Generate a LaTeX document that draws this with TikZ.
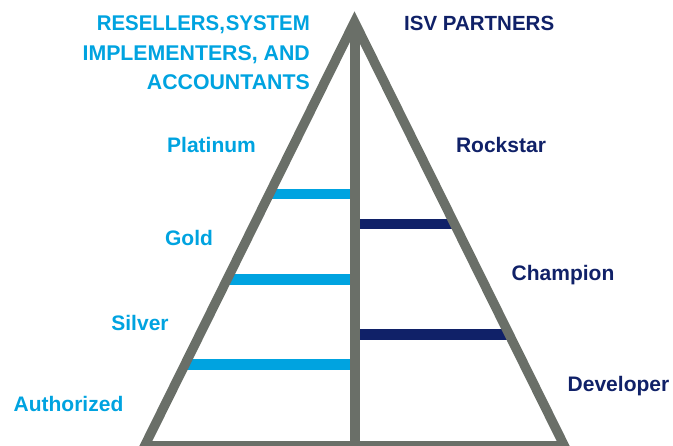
\documentclass[tikz,border=0pt]{standalone}
\usepackage{fontspec}
\setmainfont{Liberation Sans}
\definecolor{cyanA}{RGB}{0,163,224}
\definecolor{navyA}{RGB}{16,33,104}
\definecolor{grayA}{RGB}{106,111,104}
\begin{document}
\begin{tikzpicture}[x=1pt,y=-1pt,
  frame/.style={draw=grayA,line width=9.5pt,line join=miter},
  spine/.style={draw=grayA,line width=10pt},
  cbar/.style={draw=cyanA,line width=10.5pt},
  nbar/.style={draw=navyA,line width=10.5pt},
  clabel/.style={text=cyanA,font=\fontsize{21}{25}\selectfont\bfseries,inner sep=0pt,anchor=base},
  nlabel/.style={text=navyA,font=\fontsize{21}{25}\selectfont\bfseries,inner sep=0pt,anchor=base},
  ctitle/.style={text=cyanA,font=\fontsize{21.3}{25}\selectfont\bfseries,inner sep=0pt,anchor=base east},
  ntitle/.style={text=navyA,font=\fontsize{20.5}{25}\selectfont\bfseries,inner sep=0pt,anchor=base west}]
\useasboundingbox (0,0) rectangle (673,446);
% geometry
\coordinate (apex) at (354.5,22);
\coordinate (bl) at (144.6,446);
\coordinate (br) at (564.4,446);
\coordinate (mid) at (354.5,446);
% bars
\coordinate (c1l) at (269.4,194);   \coordinate (c1r) at (354.5,194);
\coordinate (c2l) at (227.0,279.5); \coordinate (c2r) at (354.5,279.5);
\coordinate (c3l) at (185.0,364.5); \coordinate (c3r) at (354.5,364.5);
\coordinate (n1l) at (354.5,224);   \coordinate (n1r) at (454.5,224);
\coordinate (n2l) at (354.5,334.5); \coordinate (n2r) at (509.2,334.5);
\draw[cbar] (c1l) -- (c1r);
\draw[cbar] (c2l) -- (c2r);
\draw[cbar] (c3l) -- (c3r);
\draw[nbar] (n1l) -- (n1r);
\draw[nbar] (n2l) -- (n2r);
% pyramid
\draw[frame] (apex) -- (bl) -- (br) -- cycle;
\draw[spine] (apex) -- (mid);
% titles
\node[ctitle] (t1) at (310,31) {\scalebox{0.958}[1]{RESELLERS,\hspace{1pt}SYSTEM}};
\node[ctitle] (t2) at (310,60.5) {IMPLEMENTERS, AND};
\node[ctitle] (t3) at (310,90) {ACCOUNTANTS};
\node[ntitle] (isv) at (404,30.5) {ISV PARTNERS};
% levels
\node[clabel] (platinum) at (211.5,153) {Platinum};
\node[clabel] (gold) at (189,246) {Gold};
\node[clabel] (silver) at (140,331) {Silver};
\node[clabel] (authorized) at (68.5,412) {Authorized};
\node[nlabel] (rockstar) at (501,153) {Rockstar};
\node[nlabel] (champion) at (563,281) {Champion};
\node[nlabel] (developer) at (618.5,392) {Developer};
\end{tikzpicture}
\end{document}
